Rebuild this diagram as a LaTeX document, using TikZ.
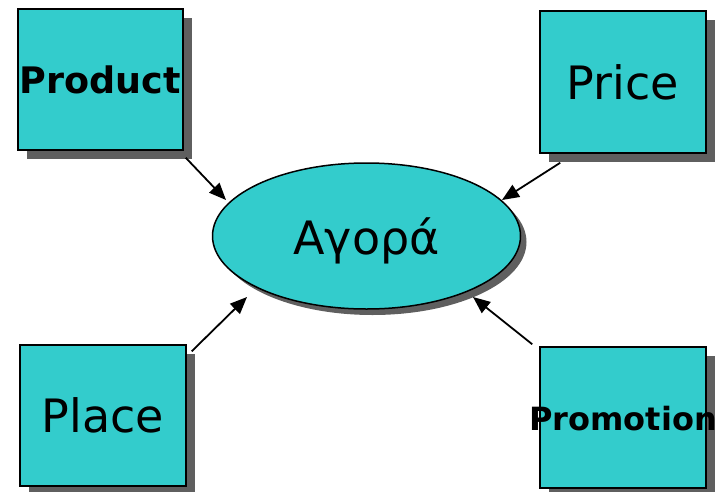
\documentclass[tikz,border=0pt]{standalone}
\usepackage{fontspec}
\setmainfont{DejaVu Sans}
\usetikzlibrary{shapes.geometric,shadows,arrows.meta}
\definecolor{teal1}{RGB}{51,204,204}
\definecolor{shade1}{RGB}{95,95,95}
\tikzset{
  boxnode/.style={draw=black,line width=1.5pt,fill=teal1,minimum width=165pt,minimum height=141pt,inner sep=0pt,
    drop shadow={shadow xshift=8.5pt,shadow yshift=-8.5pt,fill=shade1,opacity=1}},
  ellnode/.style={ellipse,draw=black,line width=1.5pt,fill=teal1,minimum width=308pt,minimum height=146pt,inner sep=0pt,
    drop shadow={shadow xshift=6pt,shadow yshift=-6pt,fill=shade1,opacity=1}},
  bigtxt/.style={font=\fontsize{46pt}{50pt}\selectfont,inner sep=0pt},
  boldtxt/.style={font=\fontsize{36.5pt}{40pt}\selectfont\bfseries,inner sep=0pt},
  arr/.style={line width=1.8pt,-{Triangle[length=17pt,width=14pt]}}
}
\begin{document}
\begin{tikzpicture}[x=1pt,y=-1pt]
\useasboundingbox (0,0) rectangle (724,491);
\node[boxnode] (prod) at (100.5,79.5) {};
\node[boxnode,minimum width=166pt,minimum height=142pt] (price) at (623,82) {};
\node[boxnode,minimum width=166pt] (place) at (103,415.5) {};
\node[boxnode,minimum width=166pt] (promo) at (623,417.5) {};
\node[ellnode] (ag) at (366.5,236) {};
\node[boldtxt] (prodt) at (prod.center) {Product};
\node[bigtxt] (pricet) at (price.center) {Price};
\node[bigtxt] (placet) at (place.center) {Place};
\node[boldtxt,font=\fontsize{32pt}{36pt}\selectfont\bfseries] (promot) at ([yshift=-1.5pt]promo.center) {Promotion};
\node[bigtxt] (agt) at ([yshift=-5pt]ag.center) {Αγορά};
\draw[arr] ([shift={(2,7)}]prod.south east) -- ([shift={(-140.5,-36)}]ag.center);
\draw[arr] ([shift={(21,9)}]price.south west) -- ([shift={(135.5,-36)}]ag.center);
\draw[arr] ([shift={(5,7)}]place.north east) -- ([shift={(-119.5,61)}]ag.center);
\draw[arr] ([shift={(-7,-2)}]promo.north west) -- ([shift={(106.5,61)}]ag.center);
\end{tikzpicture}
\end{document}
